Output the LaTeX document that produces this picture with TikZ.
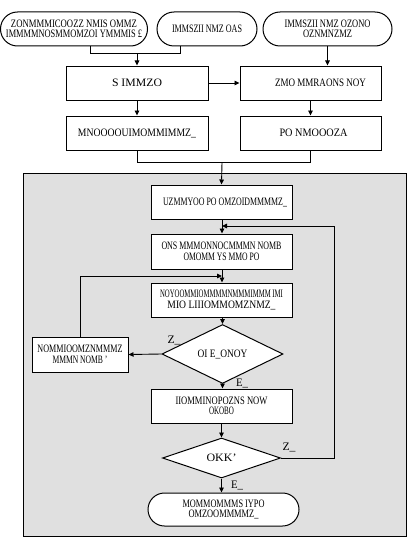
\documentclass[tikz,border=0pt]{standalone}
\usepackage{fontspec}
\setmainfont{Liberation Serif}
\usepackage{graphicx}
\usetikzlibrary{shapes.geometric,shapes.misc,arrows.meta,calc}
\newcommand\gt[2]{\resizebox{#1pt}{7.5pt}{#2}}
\begin{document}
\begin{tikzpicture}[x=1pt,y=-1pt,
  every node/.style={font=\fontsize{9}{10.5}\selectfont},
  box/.style={draw,fill=white,line width=1pt,inner sep=0pt,align=center,rectangle},
  term/.style={box,rounded rectangle},
  dec/.style={box,diamond},
  lab/.style={inner sep=0pt},
  line/.style={line width=0.9pt},
  arr/.style={line,-{Triangle[length=5pt,width=4.5pt]}}]
\useasboundingbox (0,0) rectangle (409,543);
\draw[fill=black!12,line width=1pt] (23.5,173.5) rectangle (406.5,536.5);
% top terminals
\node[term,minimum width=147pt,minimum height=34pt] (o1) at (74,29)
  {\gt{126}{ZONMMMICOOZZ NMIS OMMZ}\\\gt{136}{IMMMMNOSMMOMZOI YMMMIS £}};
\node[term,minimum width=100pt,minimum height=34pt] (o2) at (207,29)
  {\gt{70}{IMMSZII NMZ OAS}};
\node[term,minimum width=129pt,minimum height=34pt] (o3) at (327.5,29)
  {\gt{86}{IMMSZII NMZ OZONO}\\\gt{49}{OZNMNZMZ}};
% boxes
\node[box,minimum width=142pt,minimum height=34pt] (A) at (137,83) {\gt{50}{S IMMZO}};
\node[box,minimum width=141pt,minimum height=34pt] (B) at (310.5,83) {\hspace*{20pt}\gt{91}{ZMO MMRAONS NOY}};
\node[box,minimum width=142pt,minimum height=34pt] (C) at (137,133) {\gt{118}{MNOOOOUIMOMMIMMZ\_}};
\node[box,minimum width=141pt,minimum height=34pt] (D) at (310.5,133) {\hspace*{6pt}\gt{68}{PO NMOOOZA}};
\node[box,minimum width=141pt,minimum height=34pt] (E) at (221.5,202) {\hspace*{7pt}\gt{124}{UZMMYOO PO OMZOIDMMMMZ\_}};
\node[box,minimum width=141pt,minimum height=35pt] (F) at (221.5,251.5)
  {\gt{120}{ONS MMMONNOCMMMN NOMB}\\\gt{76}{OMOMM YS MMO PO}};
\node[box,minimum width=141pt,minimum height=34pt] (G) at (221.5,300)
  {\gt{123}{NOYOOMMIOMMMMNMMMIMMM IMI}\\\gt{108}{MIO LIIIOMMOMZNMZ\_}};
\node[dec,minimum width=121pt,minimum height=42pt] (d1) at (222.5,354) {\gt{50}{OI E\_ONOY}};
\node[box,minimum width=96pt,minimum height=35pt] (H) at (80,354.5)
  {\gt{85}{NOMMIOOMZNMMMZ}\\\gt{55}{MMMN NOMB '}};
\node[box,minimum width=141pt,minimum height=34pt] (I) at (221.5,406)
  {\gt{92}{IIOMMINOPOZNS NOW}\\\gt{25}{OKOBO}};
\node[dec,minimum width=118pt,minimum height=40pt] (d2) at (221.5,458) {\gt{30}{OKK'}};
\node[term,minimum width=151pt,minimum height=33pt] (o4) at (223.5,509.5)
  {\gt{82}{MOMMOMMMS IYPO}\\\gt{70}{OMZOOMMMMZ\_}};
% labels
\node[lab] (l1) at (174,340) {\gt{13}{Z\_}};
\node[lab] (l2) at (242,383) {\gt{12}{E\_}};
\node[lab] (l3) at (289,447) {\gt{13}{Z\_}};
\node[lab] (l4) at (237,485) {\gt{12}{E\_}};
% junction coordinates
\coordinate (j1) at (137,53.5);
\coordinate (j2) at (222,162.5);
\coordinate (jE) at (222,226);
\coordinate (jF) at (222,276);
% connectors
\draw[line] ([xshift=16pt]o1.south) |- (j1) -| ([xshift=-27pt]o2.south);
\draw[arr] (j1) -- (A.north);
\draw[arr] (o3.south) -- (o3.south |- B.north);
\draw[arr] (A) -- (B);
\draw[arr] (A) -- (C);
\draw[arr] (B) -- (D);
\draw[line] (C.south) |- (j2) -| (D.south);
\draw[arr] (j2) -- (E.north);
\draw[arr] (E.south -| jE) -- (F.north -| jE);
\draw[arr] (F.south -| jF) -- (G.north -| jF);
\draw[arr] (G.south -| d1.north) -- (d1.north);
\draw[arr] (d1.west) -- (H.east);
\draw[arr] (H.north) |- (jF);
\draw[arr] (d1.south) -- (d1.south |- I.north);
\draw[arr] (I.south -| d2.north) -- (d2.north);
\draw[arr] (d2.east) -- ++(53,0) |- (jE);
\draw[arr] (d2.south) -- (d2.south |- o4.north);
\end{tikzpicture}
\end{document}
